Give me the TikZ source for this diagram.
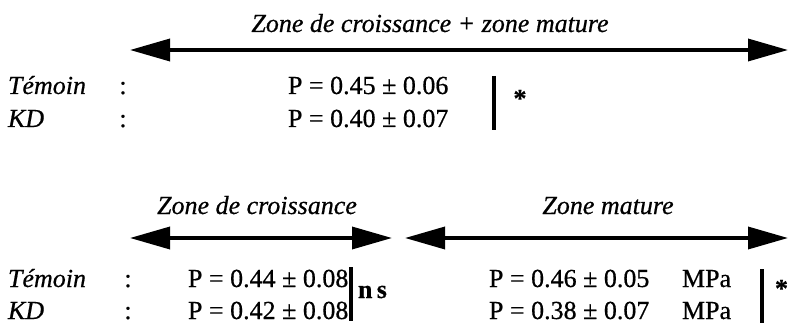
\documentclass[tikz,border=0pt]{standalone}
\usepackage{fontspec}
\setmainfont{Liberation Serif}[FakeBold=0.6]
\usetikzlibrary{arrows.meta}
\begin{document}
\begin{tikzpicture}[x=1pt,y=-1pt,
  txt/.style={inner sep=0pt,outer sep=0pt,font=\fontsize{26}{30}\selectfont},
  lab/.style={txt,font=\fontsize{26}{30}\selectfont\itshape},
  val/.style={txt,anchor=base west},
  dbl/.style={line width=3.5pt,{Triangle[length=40pt,width=22pt]}-{Triangle[length=40pt,width=22pt]}},
  bar/.style={line width=4pt}]
\useasboundingbox (0,0) rectangle (790,326);
% top section
\node[lab,anchor=base] (t1) at (430,32) {Zone de croissance + zone mature};
\coordinate (a1l) at (130,50);
\coordinate (a1r) at (788,50);
\draw[dbl] (a1l) -- (a1r);
\node[lab,anchor=base west] (tem1) at (8,94) {Témoin};
\node[txt,anchor=base] (c1) at (123,94) {:};
\node[val] (p1) at (288,94) {P = 0.45 ± 0.06};
\node[lab,anchor=base west] (kd1) at (8,127) {KD};
\node[txt,anchor=base] (c2) at (123,127) {:};
\node[val] (p2) at (288,127) {P = 0.40 ± 0.07};
\coordinate (b1t) at (494,76);
\coordinate (b1b) at (494,130);
\draw[bar] (b1t) -- (b1b);
\node[txt,anchor=base] (s1) at (520,107) {\textbf{*}};
% bottom section
\node[lab,anchor=base] (t2) at (257,214) {Zone de croissance};
\node[lab,anchor=base] (t3) at (608,214) {Zone mature};
\coordinate (a2l) at (130,238);
\coordinate (a2r) at (392,238);
\draw[dbl] (a2l) -- (a2r);
\coordinate (a3l) at (405,238);
\coordinate (a3r) at (788,238);
\draw[dbl] (a3l) -- (a3r);
\node[lab,anchor=base west] (tem2) at (8,287) {Témoin};
\node[txt,anchor=base] (c3) at (128,287) {:};
\node[val] (p3) at (188,287) {P = 0.44 ± 0.08};
\node[lab,anchor=base west] (kd2) at (8,319) {KD};
\node[txt,anchor=base] (c4) at (128,319) {:};
\node[val] (p4) at (188,319) {P = 0.42 ± 0.08};
\coordinate (b2t) at (351,267);
\coordinate (b2b) at (351,321);
\draw[bar] (b2t) -- (b2b);
\node[val] (ns) at (358,298) {\textbf{n\,s}};
\node[val] (p5) at (489,287) {P = 0.46 ± 0.05};
\node[val] (u1) at (682,287) {MPa};
\node[val] (p6) at (489,319) {P = 0.38 ± 0.07};
\node[val] (u2) at (682,319) {MPa};
\coordinate (b3t) at (762,269);
\coordinate (b3b) at (762,323);
\draw[bar] (b3t) -- (b3b);
\node[txt,anchor=base west] (s2) at (775,297) {\textbf{*}};
\end{tikzpicture}
\end{document}
